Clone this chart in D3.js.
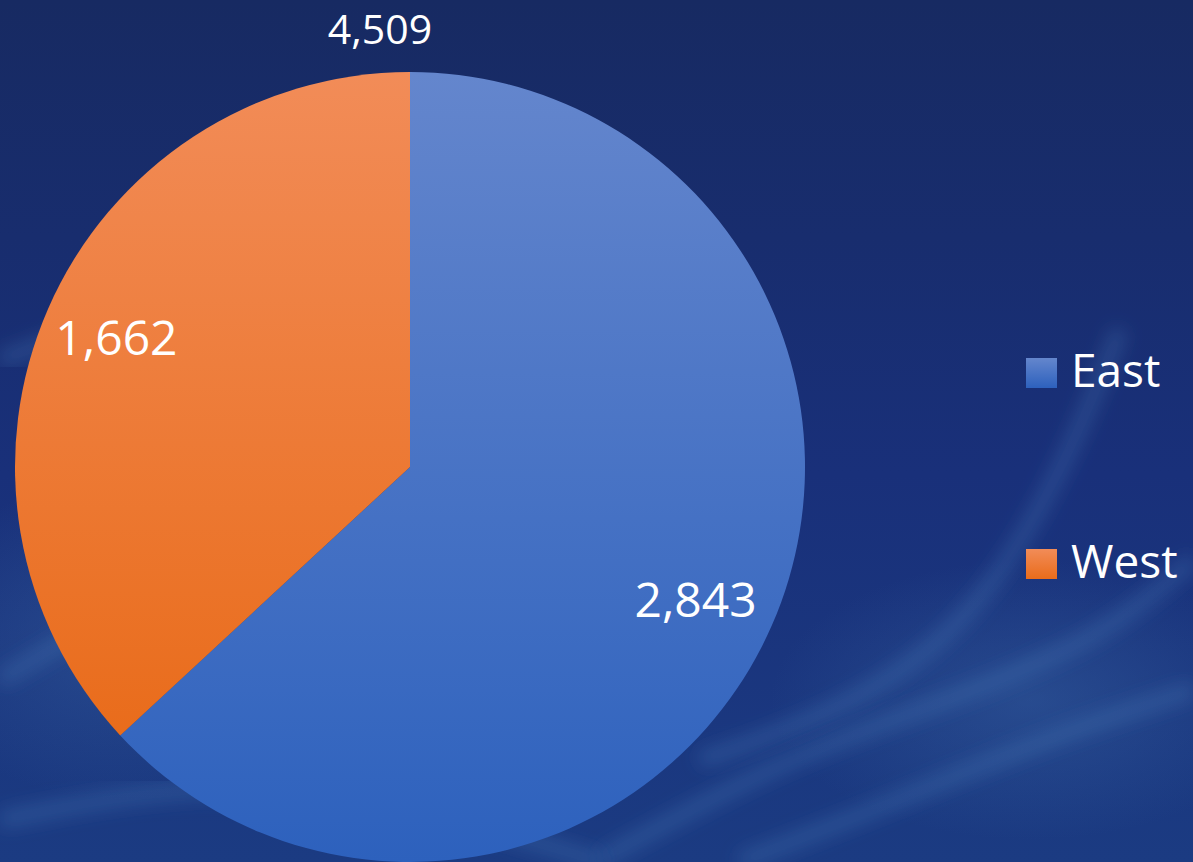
<!DOCTYPE html>
<html>
<head>
<meta charset="utf-8">
<script src="https://cdn.jsdelivr.net/npm/d3@7"></script>
<style>
  body { margin: 0; background: #172a63; overflow: hidden; }
  text { font-family: "Open Sans", "Noto Sans", sans-serif; fill: #fff; }
</style>
</head>
<body>
<div id="chart"></div>
<script>
// data
const regions = ["East", "West"];
const sales = [2843, 1662];
const title = "4,509";

const W = 1193, H = 862;
const cx = 410, cy = 467, radius = 395;

const svg = d3.select("#chart").append("svg")
  .attr("width", W)
  .attr("height", H);

const defs = svg.append("defs");

// background gradient
const bg = defs.append("linearGradient").attr("id", "bg")
  .attr("x1", 0).attr("y1", 0).attr("x2", 0).attr("y2", 1);
bg.append("stop").attr("offset", "0%").attr("stop-color", "#172a62");
bg.append("stop").attr("offset", "55%").attr("stop-color", "#19307a");
bg.append("stop").attr("offset", "100%").attr("stop-color", "#1b3b82");

const glow = defs.append("radialGradient").attr("id", "glow");
glow.append("stop").attr("offset", "0%").attr("stop-color", "#3c6aa8").attr("stop-opacity", 0.4);
glow.append("stop").attr("offset", "100%").attr("stop-color", "#3c6aa8").attr("stop-opacity", 0);

defs.append("filter").attr("id", "blur")
  .append("feGaussianBlur").attr("stdDeviation", 9);

svg.append("rect").attr("width", W).attr("height", H).attr("fill", "url(#bg)");
svg.append("ellipse").attr("cx", 1030).attr("cy", 700).attr("rx", 260).attr("ry", 140).attr("fill", "url(#glow)");
svg.append("ellipse").attr("cx", 120).attr("cy", 640).attr("rx", 220).attr("ry", 160).attr("fill", "url(#glow)");

// faint background swooshes (decoration only)
const swoosh = d3.line().curve(d3.curveBasis);
const waves = [
  [[0, 360], [80, 330], [180, 310], [260, 290]],
  [[0, 680], [100, 620], [200, 560], [300, 520]],
  [[700, 760], [820, 720], [960, 640], [1060, 480], [1120, 330]],
  [[740, 862], [900, 800], [1040, 740], [1193, 690]],
  [[600, 860], [780, 760], [950, 700], [1100, 640], [1193, 560]],
  [[0, 820], [200, 780], [400, 800], [600, 862]]
];
svg.append("g").selectAll("path")
  .data(waves)
  .join("path")
  .attr("d", swoosh)
  .attr("fill", "none")
  .attr("stroke", "#4f86c0")
  .attr("stroke-opacity", 0.3)
  .attr("stroke-width", 16)
  .attr("filter", "url(#blur)");

// slice gradients
const grads = [
  { id: "g-east", top: "#6486cd", bottom: "#2d61bd" },
  { id: "g-west", top: "#f28c58", bottom: "#e96c1b" }
];
grads.forEach(g => {
  const lg = defs.append("linearGradient").attr("id", g.id)
    .attr("x1", 0).attr("y1", 0).attr("x2", 0).attr("y2", 1);
  lg.append("stop").attr("offset", "0%").attr("stop-color", g.top);
  lg.append("stop").attr("offset", "100%").attr("stop-color", g.bottom);
});
const fill = d3.scaleOrdinal().domain(regions).range(grads.map(g => `url(#${g.id})`));

const data = regions.map((r, i) => ({ region: r, value: sales[i] }));

const pie = d3.pie().value(d => d.value).sort(null);
const arc = d3.arc().innerRadius(0).outerRadius(radius);
const labelArc = d3.arc().innerRadius(radius * 0.8).outerRadius(radius * 0.8);

const g = svg.append("g").attr("transform", `translate(${cx},${cy})`);

g.selectAll("path")
  .data(pie(data))
  .join("path")
  .attr("d", arc)
  .attr("fill", d => fill(d.data.region));

// small nudge so labels sit where the original placed them
const labelNudge = [[-4, 6], [-4, -3]];
const fmt = d3.format(",");
g.selectAll("text")
  .data(pie(data))
  .join("text")
  .attr("transform", (d, i) => {
    const [x, y] = labelArc.centroid(d);
    return `translate(${x + labelNudge[i][0]},${y + labelNudge[i][1]})`;
  })
  .attr("text-anchor", "middle")
  .attr("dy", "0.36em")
  .style("font-size", "48px")
  .text(d => fmt(d.data.value));

// title
svg.append("text")
  .attr("x", 380)
  .attr("y", 44)
  .attr("text-anchor", "middle")
  .style("font-size", "41px")
  .text(title);

// legend
const legend = svg.append("g").attr("transform", "translate(1026,358)");
const item = legend.selectAll("g")
  .data(regions)
  .join("g")
  .attr("transform", (d, i) => `translate(0,${i * 191})`);
item.append("rect")
  .attr("width", 31).attr("height", 30)
  .attr("fill", d => fill(d));
item.append("text")
  .attr("x", 45).attr("y", 29)
  .style("font-size", "46px")
  .text(d => d);
</script>
</body>
</html>
